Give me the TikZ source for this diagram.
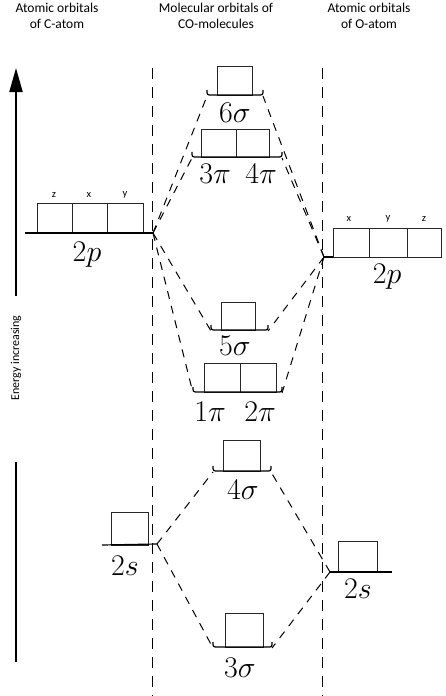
\RequirePackage{fix-cm}
\documentclass[tikz,border=0pt]{standalone}
\usepackage{fontspec}
\newfontfamily\hdrfont{Carlito}
\usetikzlibrary{arrows.meta}
\tikzset{
  hdr/.style={font=\hdrfont\fontsize{13.5}{16}\selectfont, align=center, inner sep=0pt},
  axl/.style={font=\hdrfont\fontsize{12}{14}\selectfont, inner sep=0pt},
  sml/.style={font=\hdrfont\fontsize{10.5}{12}\selectfont, inner sep=0pt},
  lbl/.style={font=\fontsize{30}{32}\selectfont, inner sep=0pt},
  orb/.style={line width=1pt, draw=black!85},
  lvl/.style={line width=1.2pt},
  sep/.style={line width=1pt, dash pattern=on 11pt off 8pt},
  cnx/.style={line width=1pt, dash pattern=on 8pt off 7pt},
}
\newcommand{\mylevel}[3]{% left x, right x, y : bracket-shaped base line
  \draw[lvl] (#1,#3-5) .. controls (#1,#3) .. (#1+5,#3) -- (#2-5,#3) .. controls (#2,#3) .. (#2,#3-5);}
\begin{document}
\begin{tikzpicture}[x=1pt,y=-1pt]
\useasboundingbox (0,0) rectangle (445,696);

% headers
\node[hdr] (hC) at (57,16) {Atomic orbitals\\of C-atom};
\node[hdr] (hM) at (216,16) {Molecular orbitals of\\CO-molecules};
\node[hdr] (hO) at (369,16) {Atomic orbitals\\of O-atom};

% energy axis
\coordinate (a1) at (16,296);
\coordinate (a2) at (16,68);
\coordinate (a3) at (16,462);
\coordinate (a4) at (16,662);
\draw[line width=2pt, -{Triangle[length=24pt,width=13pt]}] (a1) -- (a2);
\draw[line width=2pt] (a3) -- (a4);
\node[axl, rotate=90] (en) at (16,358) {Energy increasing};

% vertical separators
\coordinate (v1t) at (152,68);
\coordinate (v1b) at (152,696);
\coordinate (v2t) at (322,68);
\coordinate (v2b) at (322,696);
\draw[sep] (v1t) -- (v1b);
\draw[sep] (v2t) -- (v2b);

% ---------- C atom 2p ----------
\draw[orb] (37,203) rectangle (72,233);
\draw[orb] (72,203) rectangle (107,233);
\draw[orb] (107,203) rectangle (143,233);
\coordinate (C2p) at (153,233);
\draw[lvl] (25,233) -- (C2p);
\node[sml] (cz) at (54,195) {z};
\node[sml] (cx) at (89,195) {x};
\node[sml] (cy) at (125,195) {y};
\node[lbl] (lC2p) at (87,255) {$2p$};

% ---------- O atom 2p ----------
\draw[orb] (333,228) rectangle (369,257);
\draw[orb] (369,228) rectangle (407,257);
\draw[orb] (407,228) rectangle (441,257);
\coordinate (O2p) at (324,257);
\draw[lvl] (O2p) -- (333,257);
\node[sml] (ox) at (349,219) {x};
\node[sml] (oy) at (388,219) {y};
\node[sml] (oz) at (424,219) {z};
\node[lbl] (lO2p) at (387,277) {$2p$};

% ---------- C atom 2s ----------
\draw[orb] (111,512) rectangle (148,545);
\coordinate (C2s) at (157,544);
\draw[lvl] (102,545) -- (C2s);
\node[lbl] (lC2s) at (125,566) {$2s$};

% ---------- O atom 2s ----------
\draw[orb] (338,541) rectangle (377,572);
\coordinate (O2s) at (330,572);
\draw[lvl] (O2s) -- (392,572);
\node[lbl] (lO2s) at (358,589) {$2s$};

% ---------- molecular orbitals ----------
% 6 sigma
\draw[orb] (217,66) rectangle (252,95);
\mylevel{207}{263}{95}
\coordinate (s6L) at (207,96);
\coordinate (s6R) at (263,96);
\node[lbl] (l6s) at (235,113) {$6\sigma$};

% 3pi 4pi
\draw[orb] (201,129) rectangle (236,157);
\draw[orb] (236,129) rectangle (269,157);
\mylevel{192}{282}{157}
\coordinate (p34L) at (192,158);
\coordinate (p34R) at (282,158);
\node[lbl] (l3p) at (215,174) {$3\pi$};
\node[lbl] (l4p) at (261,174) {$4\pi$};

% 5 sigma
\draw[orb] (221,302) rectangle (255,330);
\mylevel{211}{268}{330}
\coordinate (s5L) at (211,331);
\coordinate (s5R) at (268,331);
\node[lbl] (l5s) at (235,346) {$5\sigma$};

% 1pi 2pi
\draw[orb] (204,363) rectangle (240,392);
\draw[orb] (240,363) rectangle (276,392);
\mylevel{193}{282}{392}
\coordinate (p12L) at (193,393);
\coordinate (p12R) at (282,393);
\node[lbl] (l1p) at (210,412) {$1\pi$};
\node[lbl] (l2p) at (260,412) {$2\pi$};

% 4 sigma
\draw[orb] (223,440) rectangle (260,471);
\mylevel{213}{271}{471}
\coordinate (s4L) at (213,472);
\coordinate (s4R) at (271,472);
\node[lbl] (l4s) at (243,490) {$4\sigma$};

% 3 sigma
\draw[orb] (225,613) rectangle (263,647);
\mylevel{213}{272}{647}
\coordinate (s3L) at (213,648);
\coordinate (s3R) at (272,648);
\node[lbl] (l3s) at (240,668) {$3\sigma$};

% ---------- correlation lines ----------
\draw[cnx] (C2p) -- (s6L);
\draw[cnx] (C2p) -- (p34L);
\draw[cnx] (C2p) -- (s5L);
\draw[cnx] (C2p) -- (p12L);
\draw[cnx] (O2p) -- (s6R);
\draw[cnx] (O2p) -- (p34R);
\draw[cnx] (O2p) -- (s5R);
\draw[cnx] (O2p) -- (p12R);
\draw[cnx] (C2s) -- (s4L);
\draw[cnx] (C2s) -- (s3L);
\draw[cnx] (O2s) -- (s4R);
\draw[cnx] (O2s) -- (s3R);
\end{tikzpicture}
\end{document}
